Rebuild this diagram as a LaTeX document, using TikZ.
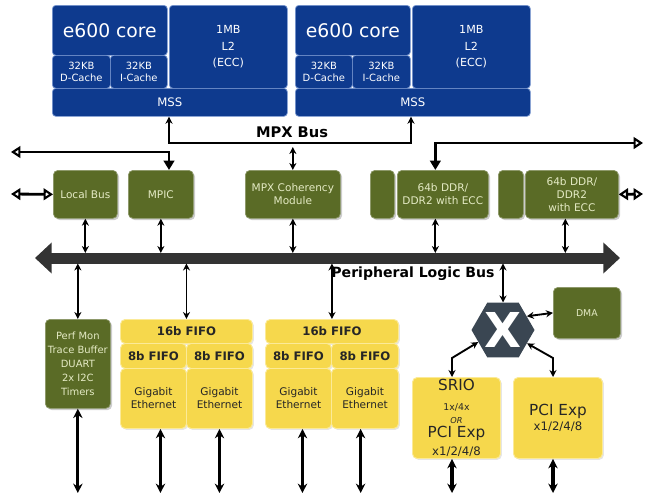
\documentclass[tikz,border=0pt]{standalone}
\usepackage{fontspec}
\setmainfont{DejaVu Sans}
\usetikzlibrary{shapes.geometric,arrows.meta,shadows}

\definecolor{coreblue}{HTML}{0E3A8E}
\definecolor{coreline}{HTML}{7C9AD2}
\definecolor{olivebox}{HTML}{5A6B26}
\definecolor{olivetext}{HTML}{E4EAC4}
\definecolor{fifoyellow}{HTML}{F6D84C}
\definecolor{fifoline}{HTML}{FBEA98}
\definecolor{busgray}{HTML}{333333}
\definecolor{xbargray}{HTML}{3A4652}
\newcommand{\sz}[2]{\fontsize{#1}{#2}\selectfont}

\begin{document}
\begin{tikzpicture}[x=0.03cm,y=-0.03cm,
  blk/.style 2 args={anchor=north west,minimum width=#1*0.3mm,minimum height=#2*0.3mm,inner sep=0pt},
  cpu/.style={fill=coreblue,draw=coreline,line width=0.6pt,rounded corners=3pt,text=white},
  ctl/.style={fill=olivebox,draw=olivebox!70!white,line width=0.6pt,rounded corners=4pt,text=olivetext,
    drop shadow={shadow xshift=1.5pt,shadow yshift=-1.5pt,fill=black!40}},
  eth/.style={fill=fifoyellow,draw=fifoline,line width=0.8pt,rounded corners=4pt,text=black!85,
    drop shadow={shadow xshift=1.2pt,shadow yshift=-1.2pt,fill=black!20}},
  link/.style={{Stealth[length=6pt,width=6pt]}-{Stealth[length=6pt,width=6pt]},line width=1.6pt},
  trunk/.style={{Triangle[open,length=8pt,width=10pt,line width=1.8pt]}-{Triangle[open,length=8pt,width=10pt,line width=1.8pt]},line width=2.4pt},
  feed/.style={{Triangle[open,length=8pt,width=10pt,line width=1.8pt]}-{Triangle[length=8pt,width=9pt]},line width=2.4pt},
  port/.style={{Stealth[length=8pt,width=8pt]}-{Stealth[length=8pt,width=8pt]},line width=2.6pt}]
  \useasboundingbox (0,0) rectangle (645,498);

  % processor cores
  \node[cpu,blk={115}{50},font=\sz{16pt}{18pt}] (core1) at (52,5) {e600 core};
  \node[cpu,blk={58}{33},font=\sz{8.5pt}{10pt},align=center] (dcache1) at (52,55) {32KB\\D-Cache};
  \node[cpu,blk={57}{33},font=\sz{8.5pt}{10pt},align=center] (icache1) at (110,55) {32KB\\I-Cache};
  \node[cpu,blk={118}{83},font=\sz{9.5pt}{14pt},align=center] (ltwo1) at (169,5) {1MB\\L2\\(ECC)};
  \node[cpu,blk={235}{28},font=\sz{10pt}{12pt}] (mss1) at (52,88) {MSS};
  \node[cpu,blk={115}{50},font=\sz{16pt}{18pt}] (core2) at (295,5) {e600 core};
  \node[cpu,blk={57}{33},font=\sz{8.5pt}{10pt},align=center] (dcache2) at (295,55) {32KB\\D-Cache};
  \node[cpu,blk={58}{33},font=\sz{8.5pt}{10pt},align=center] (icache2) at (352,55) {32KB\\I-Cache};
  \node[cpu,blk={118}{83},font=\sz{9.5pt}{14pt},align=center] (ltwo2) at (412,5) {1MB\\L2\\(ECC)};
  \node[cpu,blk={235}{28},font=\sz{10pt}{12pt}] (mss2) at (295,88) {MSS};

  % MPX bus
  \coordinate (mpxL) at (169,143);
  \coordinate (mpxR) at (411,143);
  \coordinate (mpxC) at (293,147);
  \draw[link] (mss1.south -| mpxL) |- (mpxR) -- (mss2.south -| mpxR);
  \node[font=\bfseries\sz{12.5pt}{14pt}] (mpxlbl) at (292,132) {MPX Bus};

  % controllers
  \node[ctl,blk={64}{48},font=\sz{9pt}{11pt}] (lbus) at (53,170) {Local Bus};
  \node[ctl,blk={65}{48},font=\sz{9pt}{11pt}] (mpic) at (128,170) {MPIC};
  \node[ctl,blk={95}{48},font=\sz{9pt}{11pt},align=center] (mpxcm) at (245,170) {MPX Coherency\\Module};
  \node[ctl,blk={24}{48}] (ddrphy1) at (370,170) {};
  \node[ctl,blk={91}{48},font=\sz{9pt}{11pt},align=center] (ddr1) at (397,170) {64b DDR/\\DDR2 with ECC};
  \node[ctl,blk={25}{48}] (ddrphy2) at (498,170) {};
  \node[ctl,blk={93}{48},font=\sz{9pt}{11pt},align=center] (ddr2) at (525,170) {64b DDR/\\DDR2\\with ECC};

  \coordinate (westTop) at (11,152);
  \coordinate (eastTop) at (643,143);
  \coordinate (westLb) at (11,194);
  \coordinate (eastDdr) at (643,194);
  \draw[feed] (westTop) -| (mpic.north -| mpxL);
  \draw[feed] (eastTop) -| ([xshift=-2.25mm]ddr1.north);
  \draw[trunk] (westLb) -- (lbus.west);
  \draw[trunk] (ddr2.east) -- (eastDdr);
  \draw[link] (mpxcm.north |- mpxC) -- (mpxcm.north);

  % peripheral logic bus
  \coordinate (plbW) at (35,258);
  \coordinate (plbE) at (620,258);
  \node[blk={545}{10}] (plb) at (55,253) {};
  \draw[busgray,line width=3.3mm,{Triangle[length=5mm,width=9mm]}-{Triangle[length=5mm,width=9mm]}] (plbW) -- (plbE);
  \node[font=\bfseries\sz{12pt}{14pt}] (plblbl) at (413,274) {Peripheral Logic Bus};

  \draw[link] (lbus.south) -- (lbus.south |- plb.north);
  \draw[link] (mpic.south) -- (mpic.south |- plb.north);
  \draw[link] (mpxcm.south) -- (mpxcm.south |- plb.north);
  \draw[link] ([xshift=-2.25mm]ddr1.south) -- ([xshift=-2.25mm]ddr1.south |- plb.north);
  \draw[link] ([xshift=-1.95mm]ddr2.south) -- ([xshift=-1.95mm]ddr2.south |- plb.north);

  % peripherals
  \node[ctl,blk={65}{89},font=\sz{8.5pt}{12pt},align=center] (perf) at (45,319) {Perf Mon\\Trace Buffer\\DUART\\2x I2C\\Timers};

  \node[eth,blk={132}{24},font=\bfseries\sz{10pt}{12pt}] (fifoA) at (120,319) {16b FIFO};
  \node[eth,blk={66}{25},font=\bfseries\sz{10pt}{12pt}] (fifoA1) at (120,343) {8b FIFO};
  \node[eth,blk={66}{25},font=\bfseries\sz{10pt}{12pt}] (fifoA2) at (186,343) {8b FIFO};
  \node[eth,blk={66}{60},font=\sz{9pt}{11pt},align=center] (gbeA1) at (120,368) {Gigabit\\Ethernet};
  \node[eth,blk={66}{60},font=\sz{9pt}{11pt},align=center] (gbeA2) at (186,368) {Gigabit\\Ethernet};

  \node[eth,blk={133}{24},font=\bfseries\sz{10pt}{12pt}] (fifoB) at (265,319) {16b FIFO};
  \node[eth,blk={66}{25},font=\bfseries\sz{10pt}{12pt}] (fifoB1) at (265,343) {8b FIFO};
  \node[eth,blk={67}{25},font=\bfseries\sz{10pt}{12pt}] (fifoB2) at (331,343) {8b FIFO};
  \node[eth,blk={66}{60},font=\sz{9pt}{11pt},align=center] (gbeB1) at (265,368) {Gigabit\\Ethernet};
  \node[eth,blk={67}{60},font=\sz{9pt}{11pt},align=center] (gbeB2) at (331,368) {Gigabit\\Ethernet};

  \node[regular polygon,regular polygon sides=6,minimum size=1.89cm,inner sep=0pt,fill=xbargray,
    text=white,font=\bfseries\sz{41pt}{41pt}] (xbar) at (503,330) {X};
  \node[ctl,blk={67}{51},font=\sz{8pt}{10pt}] (dma) at (553,287) {DMA};
  \node[eth,blk={88}{81},font=\sz{8pt}{10pt},align=center] (srio) at (412,377)
    {{\sz{13pt}{13pt}SRIO}\\[7pt]{\sz{8pt}{9pt}1x/4x}\\[1pt]{\itshape\sz{7pt}{8pt}OR}\\[2pt]{\sz{13pt}{13pt}PCI Exp}\\[4pt]{\sz{10pt}{11pt}x1/2/4/8}};
  \node[eth,blk={89}{81},font=\sz{8pt}{10pt},align=center] (pcie) at (513,377)
    {{\sz{13pt}{14pt}PCI Exp}\\[2pt]{\sz{10pt}{11pt}x1/2/4/8}};

  \draw[link] (plb.south -| perf.north) -- (perf.north);
  \draw[link] (plb.south -| fifoA.north) -- (fifoA.north);
  \draw[link] (plb.south -| fifoB.north) -- (fifoB.north);
  \draw[link] (plb.south -| xbar.north) -- (xbar.north);

  \coordinate (srioBend) at (452,358);
  \coordinate (pcieBend) at (553,358);
  \draw[link] (xbar.30) -- (dma.west);
  \draw[link] (xbar.206) -- (srioBend) -- (srio.north -| srioBend);
  \draw[link] (xbar.331) -- (pcieBend) -- (pcie.north -| pcieBend);

  % external ports
  \coordinate (floor) at (0,493);
  \draw[port] (perf.south) -- (perf.south |- floor);
  \draw[port] ([xshift=2.1mm]gbeA1.south) -- ([xshift=2.1mm]gbeA1.south |- floor);
  \draw[port] (gbeA2.south) -- (gbeA2.south |- floor);
  \draw[port] ([xshift=1.2mm]gbeB1.south) -- ([xshift=1.2mm]gbeB1.south |- floor);
  \draw[port] ([xshift=-1.3mm]gbeB2.south) -- ([xshift=-1.3mm]gbeB2.south |- floor);
  \draw[port] (srio.south -| srioBend) -- (srioBend |- floor);
  \draw[port] (pcie.south -| pcieBend) -- (pcieBend |- floor);
\end{tikzpicture}
\end{document}
